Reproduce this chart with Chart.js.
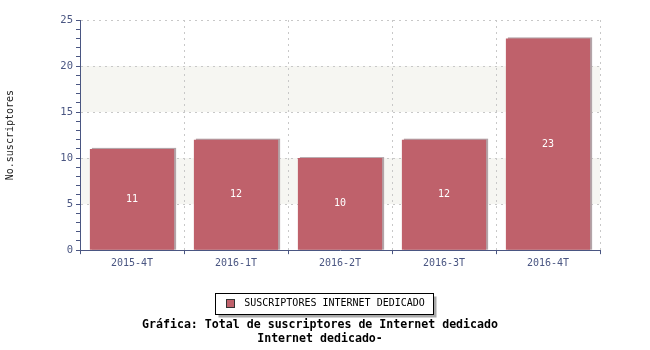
<!DOCTYPE html>
<html>
<head>
<meta charset="utf-8">
<script src="https://cdn.jsdelivr.net/npm/chart.js@4.4.0/dist/chart.umd.min.js"></script>
<style>
  html, body { margin: 0; padding: 0; background: #fff; }
  #wrap { width: 650px; height: 350px; }
</style>
</head>
<body>
<div id="wrap"><canvas id="chart"></canvas></div>
<script>
// Data
const periods = ['2015-4T', '2016-1T', '2016-2T', '2016-3T', '2016-4T'];
const subscribers = [11, 12, 10, 12, 23];
const seriesName = 'SUSCRIPTORES INTERNET DEDICADO';
const yLabelTicks = [0, 5, 10, 15, 20, 25];
const bandRanges = [[5, 10], [15, 20]];
const titleLines = ['Gráfica: Total de suscriptores de Internet dedicado', 'Internet dedicado-'];

// Styling
const MONO = '"DejaVu Sans Mono", "Liberation Mono", monospace';
const BAR_COLOR = '#bf616b';
const BAR_SHADOW = '#b3a4a8';
const AXIS_COLOR = '#4a5682';
const GRID_COLOR = '#c8c8c8';
const BAND_COLOR = '#f6f6f2';
const SWATCH = 8;          // legend colour square
const SWATCH_SLOT = 24;    // room the legend keeps for it

// alternating horizontal bands behind the grid
const bandsPlugin = {
  id: 'bands',
  beforeDraw(chart) {
    const { ctx, chartArea, scales: { y } } = chart;
    ctx.save();
    ctx.fillStyle = BAND_COLOR;
    bandRanges.forEach(([lo, hi]) => {
      const top = y.getPixelForValue(hi);
      const bottom = y.getPixelForValue(lo);
      ctx.fillRect(chartArea.left, top, chartArea.right - chartArea.left, bottom - top);
    });
    ctx.restore();
  }
};

// framed legend with a drop shadow, plus the small colour square
const legendFramePlugin = {
  id: 'legendFrame',
  beforeDraw(chart) {
    const legend = chart.legend;
    if (!legend || !legend.legendHitBoxes || !legend.legendHitBoxes.length) return;
    const hb = legend.legendHitBoxes[0];
    const cy = hb.top + hb.height / 2;
    const left = Math.round(hb.left) + 0.5;
    const right = Math.round(hb.left + hb.width + 8) + 0.5;
    const top = Math.round(cy - 10.5) + 0.5;
    const bottom = Math.round(cy + 10.5) + 0.5;
    const ctx = chart.ctx;
    ctx.save();
    ctx.fillStyle = '#a9a9a9';
    ctx.fillRect(left + 3, top + 3, right - left, bottom - top);
    ctx.fillStyle = '#ffffff';
    ctx.fillRect(left, top, right - left, bottom - top);
    ctx.strokeStyle = '#000000';
    ctx.lineWidth = 1;
    ctx.strokeRect(left, top, right - left, bottom - top);
    // colour square
    const sx = Math.round(hb.left + 11) + 0.5;
    const sy = Math.round(cy - SWATCH / 2) + 0.5;
    ctx.fillStyle = BAR_COLOR;
    ctx.fillRect(sx, sy, SWATCH, SWATCH);
    ctx.strokeStyle = '#333333';
    ctx.strokeRect(sx, sy, SWATCH, SWATCH);
    ctx.restore();
  }
};

// grey shadow offset behind each bar
const barShadowPlugin = {
  id: 'barShadow',
  beforeDatasetsDraw(chart) {
    const ctx = chart.ctx;
    ctx.save();
    ctx.fillStyle = BAR_SHADOW;
    chart.getDatasetMeta(0).data.forEach(bar => {
      const { x, y, base, width } = bar.getProps(['x', 'y', 'base', 'width'], true);
      ctx.fillRect(x - width / 2 + 2, y - 1, width, base - y + 1);
    });
    ctx.restore();
  }
};

// value labels in the middle of each bar
const valueLabelPlugin = {
  id: 'valueLabels',
  afterDatasetsDraw(chart) {
    const ctx = chart.ctx;
    ctx.save();
    ctx.fillStyle = '#ffffff';
    ctx.font = '10px ' + MONO;
    ctx.textAlign = 'center';
    ctx.textBaseline = 'middle';
    chart.getDatasetMeta(0).data.forEach((bar, i) => {
      const { x, y, base } = bar.getProps(['x', 'y', 'base'], true);
      ctx.fillText(String(subscribers[i]), x, (y + base) / 2);
    });
    ctx.restore();
  }
};

new Chart(document.getElementById('chart'), {
  type: 'bar',
  data: {
    labels: periods,
    datasets: [{
      label: seriesName,
      data: subscribers,
      backgroundColor: BAR_COLOR,
      borderWidth: 0,
      categoryPercentage: 1,
      barPercentage: 0.81
    }]
  },
  options: {
    responsive: true,
    maintainAspectRatio: false,
    animation: false,
    layout: { padding: { top: 20, left: 0, right: 10, bottom: 4 } },
    plugins: {
      legend: {
        position: 'bottom',
        labels: {
          boxWidth: SWATCH_SLOT,
          boxHeight: SWATCH,
          padding: 18,
          color: '#000',
          font: { family: MONO, size: 10 },
          // the square itself is painted by legendFramePlugin
          generateLabels: () => [{
            text: seriesName,
            fillStyle: 'rgba(0,0,0,0)',
            strokeStyle: 'rgba(0,0,0,0)',
            lineWidth: 0,
            hidden: false,
            datasetIndex: 0
          }]
        }
      },
      title: {
        display: true,
        position: 'bottom',
        text: titleLines,
        color: '#000',
        font: { family: MONO, size: 11.6, weight: 'bold', lineHeight: 1.2 },
        padding: { top: 0, bottom: 0 }
      },
      tooltip: { enabled: false }
    },
    scales: {
      x: {
        afterFit: s => { s.height = 30; },
        ticks: { color: AXIS_COLOR, font: { family: MONO, size: 10 }, padding: 3, maxRotation: 0 },
        grid: {
          offset: true,
          color: c => c.index === 0 ? 'rgba(0,0,0,0)' : GRID_COLOR,
          tickColor: AXIS_COLOR,
          tickLength: 4,
          tickBorderDash: []
        },
        border: { color: AXIS_COLOR, dash: [2, 4] }
      },
      y: {
        min: 0,
        max: 25,
        afterFit: s => { s.width = 80; },
        ticks: {
          stepSize: 1,
          autoSkip: false,
          color: AXIS_COLOR,
          font: { family: MONO, size: 10.5 },
          padding: 3,
          callback: v => yLabelTicks.includes(v) ? v : ''
        },
        grid: {
          color: c => (c.tick && c.tick.value > 0 && yLabelTicks.includes(c.tick.value)) ? GRID_COLOR : 'rgba(0,0,0,0)',
          tickColor: AXIS_COLOR,
          tickLength: 4,
          tickBorderDash: []
        },
        border: { color: AXIS_COLOR, dash: [2, 4] },
        title: {
          display: true,
          text: 'No.suscriptores',
          color: '#222',
          font: { family: MONO, size: 10 },
          padding: { top: 4, bottom: 0 }
        }
      },
      yRight: {
        type: 'linear',
        position: 'right',
        afterFit: s => { s.width = 40; },
        ticks: { display: false },
        grid: { display: false },
        border: { display: false }
      }
    }
  },
  plugins: [bandsPlugin, legendFramePlugin, barShadowPlugin, valueLabelPlugin]
});
</script>
</body>
</html>
